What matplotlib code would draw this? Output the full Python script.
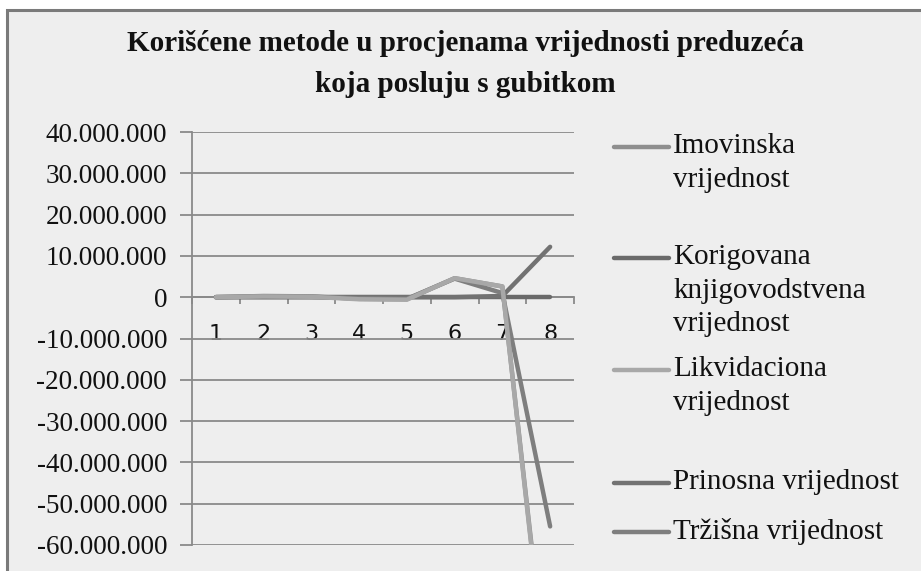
import matplotlib.pyplot as plt
from matplotlib.lines import Line2D
from matplotlib.patches import Rectangle
from matplotlib.ticker import FuncFormatter, FixedLocator

plt.rcParams['axes.unicode_minus'] = False

# --- data (values in millions) ---
cats = [1, 2, 3, 4, 5, 6, 7, 8]
imovinska = [0.0, 0.3, 0.2, -0.4, -0.5, 4.6, 2.6, -100.0]
korigovana = [0.0, 0.0, 0.0, 0.0, 0.0, 0.0, 0.0, 0.0]
likvidaciona = [0.0, 0.2, 0.1, -0.5, -0.6, 4.6, 2.6, -101.0]
prinosna = [0.0, 0.0, 0.0, 0.0, 0.0, 0.0, 0.3, 12.2]
trzisna = [0.0, 0.2, 0.1, -0.3, -0.4, 4.5, 1.0, -55.5]

labels = ['Imovinska\nvrijednost', 'Korigovana\nknjigovodstvena\nvrijednost',
          'Likvidaciona\nvrijednost', 'Prinosna vrijednost', 'Tržišna vrijednost']
series = [imovinska, korigovana, likvidaciona, prinosna, trzisna]
colors = ['#8e8e8e', '#6a6a6a', '#a8a8a8', '#727272', '#7e7e7e']
y_ticks = [40, 30, 20, 10, 0, -10, -20, -30, -40, -50, -60]

serif = 'Liberation Serif'
bg = '#eeeeee'

fig = plt.figure(figsize=(9.21, 5.71), dpi=100)
fig.patch.set_facecolor('white')
# chart frame
frame = Rectangle((7 / 921, -0.05), 1.0, 1 - 10 / 571 + 0.05,
                  transform=fig.transFigure, facecolor=bg,
                  edgecolor='#7a7a7a', linewidth=2.2, zorder=-5)
fig.patches.append(frame)

ax = fig.add_axes([192 / 921, 1 - 545 / 571, (574 - 192) / 921, (545 - 132) / 571])
ax.set_facecolor('none')
ax.set_zorder(2)

# draw order so the light line sits on top like the original
order = [1, 3, 0, 4, 2]
for i in order:
    ax.plot(cats, [v * 1e6 for v in series[i]], color=colors[i], lw=3.2,
            solid_capstyle='round', solid_joinstyle='round', zorder=3 + order.index(i))

ax.set_xlim(0.5, 8.5)
ax.set_ylim(-60e6, 40e6)
ax.yaxis.set_major_locator(FixedLocator([v * 1e6 for v in y_ticks]))
ax.yaxis.set_major_formatter(FuncFormatter(
    lambda v, p: '{:,.0f}'.format(v).replace(',', '.')))
ax.grid(axis='y', color='#8a8a8a', lw=1.3, zorder=1)
ax.set_axisbelow(True)

for s in ['top', 'right']:
    ax.spines[s].set_visible(False)
ax.spines['left'].set_color('#8a8a8a')
ax.spines['left'].set_linewidth(1.3)
ax.spines['bottom'].set_position(('data', 0))
ax.spines['bottom'].set_color('#8a8a8a')
ax.spines['bottom'].set_linewidth(1.3)

ax.set_xticks([c - 0.5 for c in cats] + [8.5])
ax.set_xticklabels([])
ax.set_xticks(cats, minor=True)
ax.set_xticklabels([str(c) for c in cats], minor=True)
ax.tick_params(axis='x', which='major', direction='out', length=5, width=1.3,
               color='#8a8a8a')
ax.tick_params(axis='x', which='minor', length=0, pad=19, labelsize=16,
               labelcolor='#111111')
for t in ax.get_xticklabels(minor=True):
    t.set_fontfamily('DejaVu Sans')
ax.tick_params(axis='y', direction='out', length=9, width=1.3, color='#8a8a8a',
               pad=9, labelsize=19.5, labelcolor='#111111')
for t in ax.get_yticklabels():
    t.set_fontfamily(serif)

fig.text(465 / 921, 1 - 64 / 571, 'Korišćene metode u procjenama vrijednosti preduzeća\nkoja posluju s gubitkom',
         ha='center', va='center', fontsize=21, fontweight='bold', family=serif,
         linespacing=1.7, color='#111111')

# legend
ys = [147, 258, 370, 483, 532]
for lab, col, y in zip(labels, colors, ys):
    fy = 1 - y / 571
    fig.add_artist(Line2D([614 / 921, 669 / 921], [fy, fy], color=col, lw=3.2,
                          solid_capstyle='round', transform=fig.transFigure))
    fig.text(673 / 921, 1 - (y - 14) / 571, lab, ha='left', va='top',
             fontsize=21, family=serif, linespacing=1.38, color='#111111')

fig.savefig('out.png', dpi=100, facecolor='white')
